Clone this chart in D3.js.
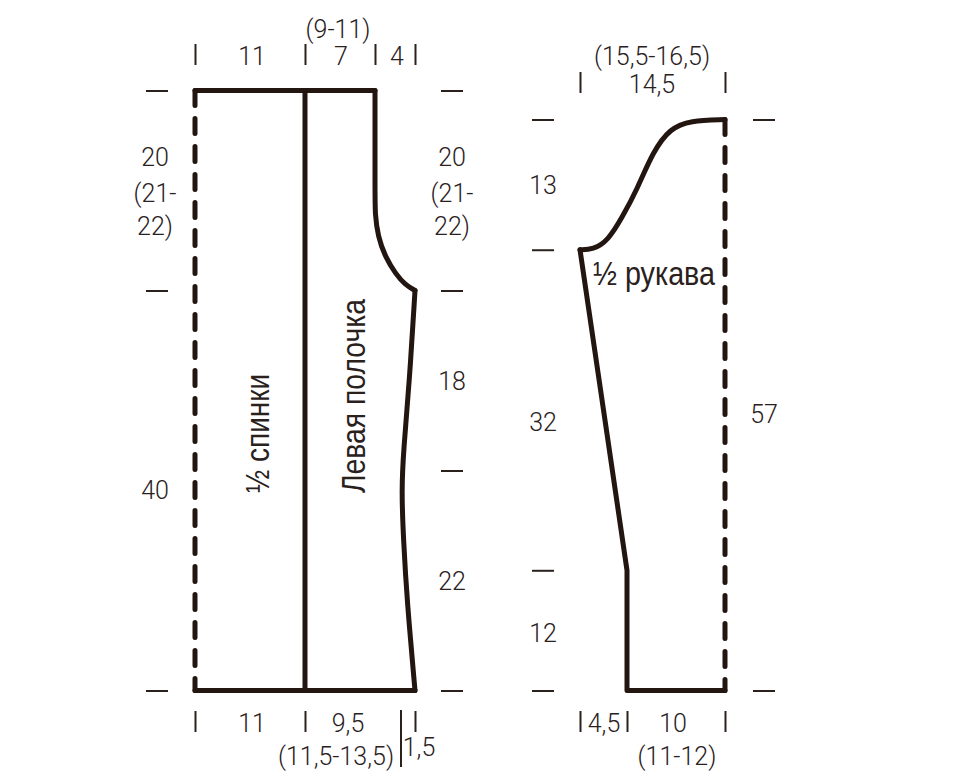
<!DOCTYPE html>
<html>
<head>
<meta charset="utf-8">
<script src="https://cdn.jsdelivr.net/npm/d3@7"></script>
<style>
html, body { margin: 0; padding: 0; background: #fff; }
text { font-family: Roboto, "Liberation Sans", sans-serif; fill: #2a211d; }
.size { font-size: 25px; font-weight: 300; }
.name { font-family: "Liberation Sans", sans-serif; font-size: 33px; }
.tick-mark line { stroke: #2a211d; stroke-width: 2; }
.domain { display: none; }
</style>
</head>
<body>
<script>
// all values in cm
var bodyWidth = 22, bodyLength = 60;
var sleeveWidth = 14.5, sleeveLength = 57;

var neckEdge = [[18, 0], [18, 10], [18, 12.4], [18.3, 14.6], [19, 16.6], [20.1, 18.4], [21, 19.4], [22, 20]];
var sideEdge = [[22, 20], [21.45, 29], [20.85, 36], [20.65, 40], [20.85, 45], [21.2, 51], [22, 60]];
var capEdge = [[0, 13], [1.3, 13], [2.8, 12.1], [4.2, 9.8], [5.7, 7], [7.3, 3.2], [9, 0.9], [11, 0.1], [14.5, 0]];
var sleeveSeam = [[0, 13], [4.7, 45], [4.7, 57], [14.5, 57]];

var bodyTopTicks = [0, 11, 18, 22];
var bodyBottomTicks = [0, 11, 22];
var bodyLeftTicks = [0, 20, 60];
var bodyRightTicks = [0, 20, 38, 60];
var sleeveTopTicks = [0, 14.5];
var sleeveBottomTicks = [0, 4.7, 14.5];
var sleeveLeftTicks = [0, 13, 45, 57];
var sleeveRightTicks = [0, 57];

var bodyTopLabels = ["(9-11)", "11", "7", "4"];
var bodyTopAt = [14.3, 5.7, 14.6, 20.2];
var bodyLeftLabels = ["20", "(21-", "22)", "40"];
var bodyLeftAt = [7.5, 11.1, 14.4, 40.8];
var bodyRightLabels = ["20", "(21-", "22)", "18", "22"];
var bodyRightAt = [7.5, 11.1, 14.4, 29.9, 49.9];
var bodyBottomLabels = ["11", "9,5"];
var bodyBottomAt = [5.7, 15.3];
var sleeveLeftLabels = ["13", "32", "12"];
var sleeveLeftAt = [7.4, 31.1, 52.2];
var sleeveRightLabels = ["57"];
var sleeveRightAt = [30.3];
var sleeveBottomLabels = ["4,5", "10"];
var sleeveBottomAt = [2.4, 9.3];

var svg = d3.select("body").append("svg")
	.attr("width", 960)
	.attr("height", 780);

var x = d3.scaleLinear().domain([0, bodyWidth]).range([195, 415]);
var y = d3.scaleLinear().domain([0, bodyLength]).range([90.5, 690.5]);
var sx = d3.scaleLinear().domain([0, sleeveWidth]).range([580, 725]);
var sy = d3.scaleLinear().domain([0, sleeveLength]).range([119.5, 690.5]);

function drawOutline(points, xs, ys, curved) {
	var line = d3.line()
		.x(function(d) { return xs(d[0]); })
		.y(function(d) { return ys(d[1]); });
	if (curved) line.curve(d3.curveBasis);
	return svg.append("path")
		.datum(points)
		.attr("d", line)
		.attr("fill", "none")
		.attr("stroke", "#231510")
		.attr("stroke-width", 5)
		.attr("stroke-linecap", "round")
		.attr("stroke-linejoin", "round");
}

// ticks stand apart from the shape, so the axis is just translated away
function drawTicks(axis, dx, dy) {
	svg.append("g")
		.attr("class", "tick-mark")
		.attr("transform", "translate(" + dx + "," + dy + ")")
		.call(axis.tickFormat("").tickSizeOuter(0));
}

function drawLabels(texts, fx, fy) {
	svg.selectAll(null)
		.data(texts)
		.enter()
		.append("text")
		.attr("class", "size")
		.attr("text-anchor", "middle")
		.attr("x", fx)
		.attr("y", fy)
		.text(function(d) { return d; });
}

// back piece + left front
drawOutline([[0, 0], [18, 0]], x, y);
drawOutline([[11, 0], [11, 60]], x, y);
drawOutline([[0, 60], [22, 60]], x, y);
drawOutline(neckEdge, x, y, true);
drawOutline(sideEdge, x, y, true);
drawOutline([[0, 0], [0, 60]], x, y)
	.attr("stroke-dasharray", "15 13");

// sleeve
drawOutline(capEdge, sx, sy, true);
drawOutline(sleeveSeam, sx, sy);
drawOutline([[14.5, 0], [14.5, 57]], sx, sy)
	.attr("stroke-dasharray", "15 13");

// tick marks
drawTicks(d3.axisTop(x).tickValues(bodyTopTicks).tickSize(21), 0, 65);
drawTicks(d3.axisBottom(x).tickValues(bodyBottomTicks).tickSize(21), 0, 711);
drawTicks(d3.axisLeft(y).tickValues(bodyLeftTicks).tickSize(22), 168, 0);
drawTicks(d3.axisRight(y).tickValues(bodyRightTicks).tickSize(22), 441, 0);
drawTicks(d3.axisTop(sx).tickValues(sleeveTopTicks).tickSize(21), 0, 93);
drawTicks(d3.axisBottom(sx).tickValues(sleeveBottomTicks).tickSize(21), 0, 711);
drawTicks(d3.axisLeft(sy).tickValues(sleeveLeftTicks).tickSize(22), 554, 0);
drawTicks(d3.axisRight(sy).tickValues(sleeveRightTicks).tickSize(22), 753, 0);

// the long tick beside 1,5
svg.append("line")
	.attr("x1", x(20.6)).attr("x2", x(20.6))
	.attr("y1", 710).attr("y2", 767)
	.attr("stroke", "#2a211d").attr("stroke-width", 2);

// size labels
drawLabels(bodyTopLabels, function(d, i) { return x(bodyTopAt[i]); }, function(d, i) { return i == 0 ? 38 : 65; });
drawLabels(bodyLeftLabels, 155, function(d, i) { return y(bodyLeftAt[i]); });
drawLabels(bodyRightLabels, 452, function(d, i) { return y(bodyRightAt[i]); });
drawLabels(bodyBottomLabels, function(d, i) { return x(bodyBottomAt[i]); }, 732);
drawLabels(["(11,5-13,5)"], 336, 765);
drawLabels(["1,5"], 419, 756);
drawLabels(["(15,5-16,5)"], 652, 65);
drawLabels(["14,5"], 652, 93);
drawLabels(sleeveLeftLabels, 543, function(d, i) { return sy(sleeveLeftAt[i]); });
drawLabels(sleeveRightLabels, 764, function(d, i) { return sy(sleeveRightAt[i]); });
drawLabels(sleeveBottomLabels, function(d, i) { return sx(sleeveBottomAt[i]); }, 732);
drawLabels(["(11-12)"], 677, 765);

// piece names
svg.append("text").attr("class", "name")
	.attr("transform", "translate(269,493) rotate(-90)")
	.attr("textLength", 119).attr("lengthAdjust", "spacingAndGlyphs")
	.text("½ спинки");
svg.append("text").attr("class", "name")
	.attr("transform", "translate(365,493) rotate(-90)")
	.attr("textLength", 194).attr("lengthAdjust", "spacingAndGlyphs")
	.text("Левая полочка");
svg.append("text").attr("class", "name")
	.attr("x", 593).attr("y", 285)
	.attr("textLength", 122).attr("lengthAdjust", "spacingAndGlyphs")
	.text("½ рукава");
</script>
</body>
</html>
